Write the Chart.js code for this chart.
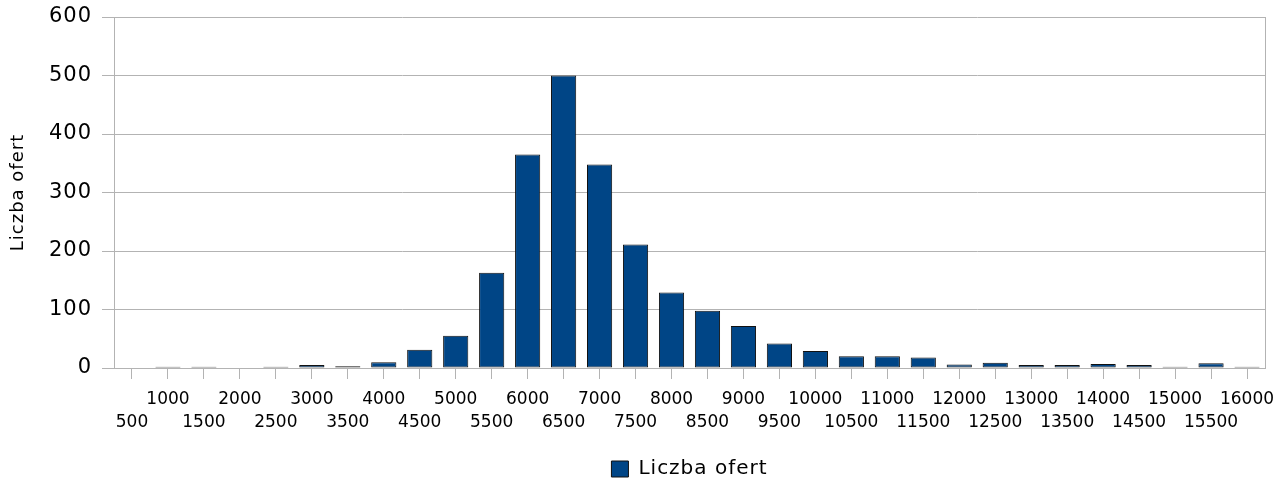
<!DOCTYPE html>
<html><head><meta charset="utf-8">
<script src="https://cdn.jsdelivr.net/npm/chart.js@4/dist/chart.umd.min.js"></script>
<style>html,body{margin:0;padding:0;background:#fff}#wrap{width:1288px;height:483px}</style>
</head><body><div id="wrap"><canvas id="c" width="1288" height="483"></canvas></div>
<script>
const categories = [500,1000,1500,2000,2500,3000,3500,4000,4500,5000,5500,6000,6500,7000,7500,8000,8500,9000,9500,10000,10500,11000,11500,12000,12500,13000,13500,14000,14500,15000,15500,16000];
const offers = [0,2,2,0,2,5,3,10,31,55,163,365,500,348,211,129,98,72,42,29,20,20,18,6,9,5,5,7,5,2,8,2];
const yTicks = [0,100,200,300,400,500,600];
const seriesName = 'Liczba ofert';
const axisTitle = 'Liczba ofert';

const FONT = "'DejaVu Sans', Verdana, sans-serif";
const GRID = '#b3b3b3';

// letter spacing for the spaced-out title/legend/y-tick text
const canvas = document.getElementById('c');
const ctx0 = canvas.getContext('2d');
const spaced = new Set([seriesName, axisTitle]);
const needsSpacing = (c, t) => spaced.has(t) || c.font.indexOf('21px') >= 0;
const origFill = ctx0.fillText.bind(ctx0);
const origMeasure = ctx0.measureText.bind(ctx0);
ctx0.fillText = function (t, x, y, w) {
  if (needsSpacing(this, t)) { const p = this.letterSpacing; this.letterSpacing = '1px'; origFill(t, x, y, w); this.letterSpacing = p; }
  else origFill(t, x, y, w);
};
ctx0.measureText = function (t) {
  if (needsSpacing(this, t)) { const p = this.letterSpacing; this.letterSpacing = '1px'; const m = origMeasure(t); this.letterSpacing = p; return m; }
  return origMeasure(t);
};

const rightBorder = {
  id: 'rightBorder',
  afterDraw(chart) {
    const {ctx, chartArea: a} = chart;
    ctx.save();
    ctx.strokeStyle = GRID; ctx.lineWidth = 1;
    ctx.beginPath(); ctx.moveTo(Math.round(a.right) + 0.5, a.top); ctx.lineTo(Math.round(a.right) + 0.5, a.bottom); ctx.stroke();
    ctx.restore();
  }
};

new Chart(canvas, {
  type: 'bar',
  data: {
    labels: categories.map(String),
    datasets: [{
      label: seriesName,
      data: offers,
      backgroundColor: '#004586',
      borderColor: '#111',
      borderWidth: 1,
      borderSkipped: false,
      barPercentage: 0.7,
      categoryPercentage: 1
    }]
  },
  options: {
    responsive: false,
    animation: false,
    maintainAspectRatio: false,
    layout: { padding: { top: 17, right: 23, left: 0, bottom: -6 } },
    plugins: {
      tooltip: { enabled: false },
      legend: {
        position: 'bottom',
        fullSize: false,
        labels: { font: { family: FONT, size: 20 }, color: '#000', boxWidth: 17, boxHeight: 16, padding: 5 }
      }
    },
    scales: {
      x: {
        offset: true,
        grid: { display: true, drawOnChartArea: false, drawTicks: true, tickLength: 11, color: GRID, offset: false },
        border: { display: true, color: GRID },
        ticks: {
          autoSkip: false, maxRotation: 0, minRotation: 0, padding: 10,
          color: '#000', font: { family: FONT, size: 17, lineHeight: 1.3 },
          callback: (v, i) => i % 2 ? [String(categories[i]), ''] : ['', String(categories[i])]
        },
        afterFit: (s) => { s.height = 86; }
      },
      y: {
        min: 0, max: 600,
        afterBuildTicks: (s) => { s.ticks = yTicks.map(v => ({ value: v })); },
        grid: { color: GRID, tickLength: 12 },
        border: { display: true, color: GRID },
        ticks: { color: '#000', padding: 10, font: { family: FONT, size: 21 } },
        title: { display: true, text: axisTitle, color: '#000', font: { family: FONT, size: 18 }, padding: { top: 8, bottom: 0 } },
        afterFit: (s) => { s.width = 114; s.paddingTop = 0; s.paddingBottom = 0; }
      }
    }
  },
  plugins: [rightBorder]
});
</script></body></html>
